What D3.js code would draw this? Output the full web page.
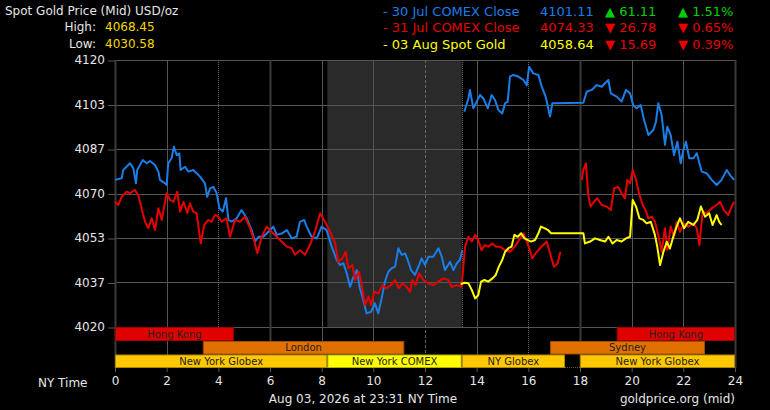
<!DOCTYPE html>
<html><head><meta charset="utf-8">
<script src="https://cdn.jsdelivr.net/npm/d3@7"></script>
<style>
html,body{margin:0;padding:0;background:#000;}
svg{display:block;font-family:"DejaVu Sans",Verdana,sans-serif;}
</style></head>
<body><svg id="chart" width="770" height="410"></svg>
<script>
// ---------- DATA ----------
const xTickValues = [0,2,4,6,8,10,12,14,16,18,20,22,24];
const xTickLabels = ["0","2","4","6","8","10","12","14","16","18","20","22","24"];
const yTickValues = [4020,4036.67,4053.33,4070,4086.67,4103.33,4120];
const yTickLabels = ["4020","4037","4053","4070","4087","4103","4120"];

// 30 Jul COMEX Close (blue), [NY hour, price]
const blueA = [[0,4075.1],[0.26,4075.7],[0.32,4078.8],[0.58,4081.3],[0.71,4079.4],[0.81,4073.8],[0.86,4078.8],[1.07,4082.5],[1.23,4081.3],[1.35,4082.2],[1.55,4080.7],[1.68,4078.2],[1.74,4075.1],[1.94,4073.8],[2.0,4073.2],[2.06,4081.3],[2.19,4083.2],[2.28,4087.5],[2.39,4084.4],[2.49,4085],[2.54,4078.8],[2.71,4080],[2.84,4078.2],[3.03,4078.8],[3.16,4077.6],[3.29,4076.3],[3.48,4073.8],[3.57,4068.8],[3.68,4071.9],[3.81,4072.5],[3.94,4070],[4.04,4064.5],[4.17,4063.2],[4.30,4068.2],[4.39,4060.1],[4.52,4059.5],[4.71,4060.7],[4.90,4063.8],[5.10,4060.7],[5.29,4056.3],[5.42,4052],[5.55,4053.8],[5.74,4053.8],[5.94,4055.7],[6.13,4057.6],[6.26,4054.5],[6.45,4055],[6.65,4056.3],[6.84,4053.2],[7.03,4053.8],[7.16,4059.4],[7.32,4060.1],[7.42,4057.6],[7.61,4053.8],[7.81,4053.2],[8.0,4057.6],[8.19,4056.3],[8.39,4050.1],[8.58,4045.1],[8.71,4043.2],[8.84,4043.9],[8.97,4040.1],[9.10,4035.1],[9.23,4038.8],[9.36,4041.3],[9.48,4034.5],[9.61,4030.1],[9.74,4025.1],[9.91,4025.7],[10.06,4028.9],[10.19,4025.1],[10.32,4030.7],[10.45,4037],[10.58,4040.7],[10.71,4042],[10.84,4042.6],[10.97,4049.5],[11.1,4047],[11.23,4047.6],[11.33,4045.1],[11.46,4041.3],[11.61,4039.5],[11.77,4043.2],[11.87,4045.7],[12.0,4043.2],[12.13,4046.3],[12.32,4046.3],[12.52,4049.5],[12.65,4046.3],[12.77,4041.3],[12.97,4044.4],[13.1,4041.3],[13.23,4043.9],[13.35,4045.1],[13.45,4048.8]];
const blueB = [[13.52,4100.6],[13.68,4105.6],[13.74,4108.8],[13.87,4101.9],[14.0,4104.4],[14.13,4106.9],[14.26,4105.6],[14.43,4101.9],[14.58,4106.9],[14.71,4105],[14.84,4101.3],[14.99,4100],[15.10,4103.8],[15.20,4104.4],[15.29,4113.8],[15.42,4114.4],[15.61,4113.8],[15.81,4112.5],[15.94,4110.6],[16.03,4117.5],[16.19,4115],[16.39,4114.4],[16.52,4110],[16.67,4106.3],[16.77,4101.9],[16.84,4098.8],[16.93,4103.8],[18.13,4104],[18.26,4108.1],[18.45,4108.8],[18.65,4110.6],[18.84,4110],[18.97,4111.3],[19.10,4112.5],[19.19,4107.5],[19.42,4106.3],[19.61,4104.4],[19.78,4108.8],[19.94,4107.5],[20.06,4103.1],[20.19,4101.9],[20.35,4103.1],[20.48,4097.5],[20.65,4091.9],[20.84,4093.8],[20.94,4096.9],[21.03,4103.8],[21.16,4099.4],[21.29,4088.2],[21.38,4095],[21.51,4091.9],[21.64,4084.4],[21.77,4089.4],[21.90,4081.3],[22.0,4086.3],[22.1,4089.4],[22.23,4083.2],[22.39,4083.2],[22.52,4085.1],[22.71,4078.2],[22.90,4077.6],[23.10,4075.1],[23.29,4073.2],[23.48,4075.1],[23.68,4078.8],[23.81,4076.9],[23.97,4075.1]];

// 31 Jul COMEX Close (red)
const redA = [[0,4066.9],[0.13,4065.7],[0.26,4068.8],[0.45,4070.7],[0.58,4070.1],[0.77,4071.3],[0.90,4069.4],[1.03,4064.5],[1.16,4059.5],[1.29,4057],[1.42,4060.7],[1.55,4056.3],[1.68,4064.5],[1.81,4060.1],[2.0,4070.1],[2.13,4067.6],[2.26,4066.9],[2.41,4070.7],[2.52,4063.2],[2.65,4066.9],[2.80,4062.6],[2.90,4066.3],[3.03,4063.2],[3.16,4062.6],[3.32,4051.3],[3.45,4058.2],[3.61,4060.1],[3.74,4059.4],[3.87,4062],[4.0,4061.3],[4.13,4059.4],[4.32,4060.7],[4.45,4053.8],[4.65,4060.1],[4.84,4059.4],[5.03,4061.3],[5.23,4057],[5.38,4052.6],[5.51,4047.6],[5.68,4053.8],[5.87,4057.6],[6.06,4055.7],[6.26,4053.8],[6.45,4052],[6.65,4050.1],[6.84,4049.5],[6.97,4047],[7.16,4048.8],[7.35,4047],[7.55,4050.7],[7.74,4055.7],[7.94,4062.6],[8.13,4059.4],[8.32,4055.7],[8.52,4051.3],[8.64,4044.4],[8.80,4045.7],[8.93,4048.2],[9.03,4042],[9.19,4043.2],[9.29,4037.6],[9.45,4040.7],[9.57,4034.5],[9.68,4028.2],[9.81,4031.4],[9.91,4028.2],[10.04,4033.2],[10.19,4032.6],[10.35,4035.7],[10.52,4034.5],[10.68,4035.7],[10.84,4037.6],[10.99,4034.5],[11.12,4036.4],[11.29,4035.1],[11.42,4033.2],[11.51,4037.6],[11.64,4035.7],[11.77,4040.1],[11.93,4037.6],[12.13,4036.4],[12.32,4035.7],[12.52,4037],[12.71,4038.2],[12.90,4037.6],[13.03,4035.1],[13.23,4035.7],[13.42,4035.1],[13.55,4050.1],[13.68,4053.8],[13.81,4052],[13.94,4054.5],[14.06,4052.6],[14.19,4048.8],[14.32,4050.7],[14.45,4050.1],[14.61,4051.3],[14.74,4050.1],[14.90,4050.1],[15.10,4048.8],[15.29,4048.2],[15.48,4050.1],[15.68,4053.2],[15.81,4055.1],[15.94,4052],[16.06,4048.8],[16.15,4045.7],[16.28,4047.6],[16.45,4049.5],[16.58,4050.7],[16.71,4052],[16.84,4047.6],[16.99,4042.6],[17.14,4043.9],[17.24,4048.2]];
const redB = [[18.06,4075.1],[18.13,4078.8],[18.23,4081.3],[18.32,4069.4],[18.41,4065.1],[18.54,4066.9],[18.67,4068.2],[18.84,4065.7],[19.03,4065.1],[19.19,4063.8],[19.32,4071.9],[19.48,4072.5],[19.61,4070],[19.74,4068.2],[19.83,4075.1],[19.94,4073.8],[20.04,4078.8],[20.17,4075.1],[20.30,4069.4],[20.43,4065.7],[20.56,4063.2],[20.65,4060.7],[20.78,4061.3],[20.90,4059.4],[21.03,4054.5],[21.16,4048.2],[21.29,4057],[21.38,4048.8],[21.51,4057.6],[21.64,4053.8],[21.74,4059.4],[21.87,4055.7],[22.03,4058.8],[22.19,4057.6],[22.39,4058.8],[22.52,4057],[22.62,4050.7],[22.75,4063.2],[22.90,4062.6],[23.10,4064.5],[23.29,4065.7],[23.42,4066.9],[23.57,4063.8],[23.74,4061.9],[23.87,4065.1],[23.97,4066.9]];

// 03 Aug Spot Gold (yellow)
const yellowSpot = [[13.38,4036.1],[13.55,4036.6],[13.68,4036.4],[13.81,4033.9],[13.94,4030.7],[14.06,4031.9],[14.17,4037],[14.30,4037.6],[14.45,4037],[14.61,4038.2],[14.74,4039.5],[14.86,4042.6],[14.99,4045.1],[15.10,4048.2],[15.23,4049.5],[15.35,4050.1],[15.46,4054.5],[15.59,4053.8],[15.72,4055.1],[15.85,4053.2],[15.97,4052.6],[16.10,4052],[16.26,4052.6],[16.39,4055.1],[16.49,4057.6],[16.62,4057],[16.75,4056.4],[16.88,4055.1],[18.13,4055.1],[18.19,4051.3],[18.39,4052],[18.58,4053.2],[18.77,4052.6],[18.97,4052],[19.10,4053.8],[19.26,4051.3],[19.42,4052.6],[19.61,4052],[19.78,4053.2],[19.94,4053.8],[20.04,4067.6],[20.17,4065.1],[20.30,4060.7],[20.45,4060.1],[20.58,4058.8],[20.74,4059.4],[20.90,4054.5],[20.99,4050.1],[21.10,4043.2],[21.23,4048.2],[21.36,4051.9],[21.48,4049.4],[21.61,4053.8],[21.74,4057.6],[21.87,4060.7],[22.03,4057],[22.19,4059.4],[22.39,4058.2],[22.54,4060.1],[22.68,4065.1],[22.84,4061.3],[23.00,4062.6],[23.13,4058.2],[23.29,4061.9],[23.39,4059.4],[23.48,4058.2]];

// Trading sessions: [name, start hour, end hour, row]
const sessionNames  = ["Hong Kong","Hong Kong","London","Sydney","New York Globex","New York COMEX","NY Globex","New York Globex"];
const sessionStarts = [0,19.42,3.4,16.84,0,8.22,13.42,18];
const sessionEnds   = [4.6,24,11.2,22.84,8.22,13.42,17.42,24];
const sessionRows   = [0,0,1,1,2,2,2,2];
const comexShade = [8.22,13.42];

const legendNames  = ["- 30 Jul COMEX Close","- 31 Jul COMEX Close","- 03 Aug Spot Gold"];
const legendPrices = ["4101.11","4074.33","4058.64"];
const legendChange = ["▲ 61.11","▼ 26.78","▼ 15.69"];
const legendPct    = ["▲ 1.51%","▼ 0.65%","▼ 0.39%"];
const legendUp     = [true,false,false];
const highLow = [["High:","4068.45"],["Low:","4030.58"]];

// ---------- DRAW ----------
const svg = d3.select("#chart");
const C = {blue:"#1a7ee8", red:"#e80000", yellow:"#ffff00", green:"#00d000", grid:"#555", text:"#e6e6e6"};
const x = d3.scaleLinear().domain([0,24]).range([115,735]);
const y = d3.scaleLinear().domain([4020,4120]).range([327,60]);
const yTop = y(4120), yBot = y(4020), axisY = 368;

svg.append("rect").attr("width",770).attr("height",410).attr("fill","#000");

// COMEX shading
svg.append("rect").attr("x",x(comexShade[0])).attr("y",yTop)
  .attr("width",x(comexShade[1])-x(comexShade[0])).attr("height",yBot-yTop).attr("fill","#2a2a2a");

// horizontal grid
svg.append("g").selectAll("line").data(yTickValues).join("line")
  .attr("x1",x(0)).attr("x2",x(24)).attr("y1",d=>Math.round(y(d))+0.5).attr("y2",d=>Math.round(y(d))+0.5)
  .attr("stroke",C.grid).attr("stroke-width",1);

// vertical grid
function vStyle(h){
  if(h%6===0 && h!==12) return {c:"#3a3a3a",w:2,d:null};
  if(h===12) return {c:"#666",w:1,d:"3,2"};
  if(h===4||h===16) return {c:"#666",w:1,d:"1,1"};
  return {c:C.grid,w:1,d:null};
}
svg.append("g").selectAll("line").data(xTickValues).join("line")
  .attr("x1",d=>Math.round(x(d))+0.5).attr("x2",d=>Math.round(x(d))+0.5)
  .attr("y1",yTop).attr("y2",axisY)
  .attr("stroke",d=>vStyle(d).c).attr("stroke-width",d=>vStyle(d).w)
  .attr("stroke-dasharray",d=>vStyle(d).d);
// shade right edge dotted
svg.append("line").attr("x1",Math.round(x(comexShade[1]))+0.5).attr("x2",Math.round(x(comexShade[1]))+0.5)
  .attr("y1",yTop).attr("y2",yBot).attr("stroke","#666").attr("stroke-dasharray","1,1");

// axis baseline (dotted)
svg.append("line").attr("x1",x(0)).attr("x2",x(24)).attr("y1",axisY-0.5).attr("y2",axisY-0.5)
  .attr("stroke","#555").attr("stroke-dasharray","1,1");

// session bars
const rowTop = [327,341,354.5], rowH = [14,13.5,13.5];
const sessFill = {"Hong Kong":"#e00000","London":"#e07000","Sydney":"#e07000","New York Globex":"#ffc800","NY Globex":"#ffc800","New York COMEX":"#ffff00"};
const sessStroke = {"Hong Kong":"#a00000","London":"#a04c00","Sydney":"#a04c00","New York Globex":"#b08800","NY Globex":"#b08800","New York COMEX":"#b0b000"};
const sessions = sessionNames.map((n,i)=>({n, s:sessionStarts[i], e:sessionEnds[i], r:sessionRows[i]}));
const sg = svg.append("g");
sg.selectAll("rect").data(sessions).join("rect")
  .attr("x",d=>x(d.s)+0.5).attr("y",d=>rowTop[d.r]+0.5)
  .attr("width",d=>x(d.e)-x(d.s)-1).attr("height",d=>rowH[d.r]-1)
  .attr("fill",d=>sessFill[d.n]).attr("stroke",d=>sessStroke[d.n]).attr("stroke-width",1);
sg.selectAll("text").data(sessions).join("text")
  .attr("x",d=>(x(d.s)+x(d.e))/2).attr("y",d=>rowTop[d.r]+rowH[d.r]/2+3.5)
  .attr("text-anchor","middle").attr("font-size","10px").attr("fill","#222").text(d=>d.n);

// price lines
const line = d3.line().x(d=>x(d[0])).y(d=>y(d[1]));
[[blueA,C.blue],[blueB,C.blue],[redA,C.red],[redB,C.red],[yellowSpot,C.yellow]].forEach(([d,c])=>{
  svg.append("path").datum(d).attr("d",line).attr("fill","none").attr("stroke",c)
    .attr("stroke-width",2).attr("stroke-linejoin","round");
});

// axes
const yAxis = svg.append("g").attr("transform",`translate(${x(0)},0)`)
  .call(d3.axisLeft(y).tickValues(yTickValues).tickFormat((d,i)=>yTickLabels[i]).tickSize(7).tickPadding(3));
yAxis.select(".domain").remove();
yAxis.selectAll("line").attr("stroke",C.grid).attr("transform","translate(0,0.5)");
yAxis.selectAll("text").attr("fill",C.text).attr("font-size","12px").attr("font-family","DejaVu Sans");

const xAxis = svg.append("g").attr("transform",`translate(0,${axisY})`)
  .call(d3.axisBottom(x).tickValues(xTickValues).tickFormat((d,i)=>xTickLabels[i]).tickSize(4).tickPadding(4));
xAxis.select(".domain").remove();
xAxis.selectAll("line").attr("stroke",C.grid);
xAxis.selectAll("text").attr("fill",C.text).attr("font-size","12px").attr("font-family","DejaVu Sans");

// texts
const T = (tx,ty,s,o={})=>svg.append("text").attr("x",tx).attr("y",ty).text(s)
  .attr("font-size",o.size||"12px").attr("fill",o.fill||C.text).attr("text-anchor",o.anchor||"start");
T(5,15,"Spot Gold Price (Mid) USD/oz");
highLow.forEach((r,i)=>{ T(96,31+i*16.5,r[0],{anchor:"end"}); T(105,31+i*16.5,r[1],{fill:"#f5d800"}); });
T(38,387,"NY Time");
T(363,403,"Aug 03, 2026 at 23:31 NY Time",{anchor:"middle"});
T(735,403,"goldprice.org (mid)",{anchor:"end"});

const legCol = [C.blue,C.red,C.yellow];
legendNames.forEach((n,i)=>{
  const by = 15.5+i*16.5;
  T(383,by,n,{fill:legCol[i],size:"13px"});
  T(540,by,legendPrices[i],{fill:legCol[i],size:"13px"});
  const cc = legendUp[i]?C.green:C.red;
  T(605,by,legendChange[i],{fill:cc,size:"13px"});
  T(678,by,legendPct[i],{fill:cc,size:"13px"});
});
</script></body></html>
